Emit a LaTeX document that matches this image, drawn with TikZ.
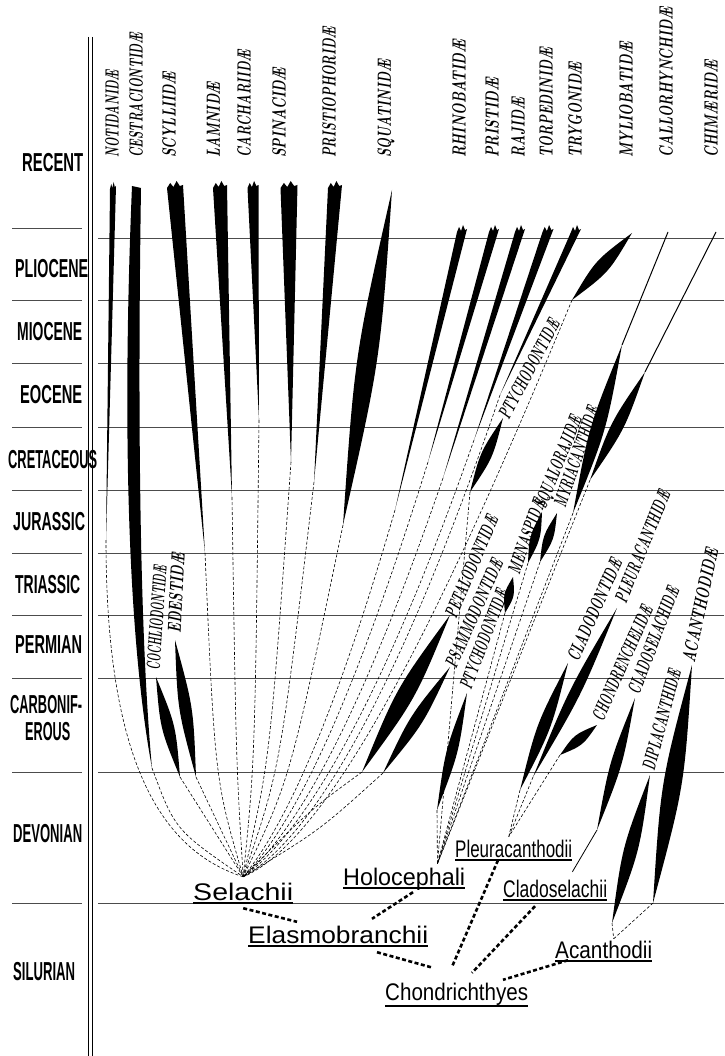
\documentclass[tikz,border=0pt]{standalone}
\usepackage{fontspec}
\usepackage{tikz}
\usetikzlibrary{calc,positioning}
\newfontfamily\grotesk{Liberation Sans}
\newcommand{\fitw}[2]{\resizebox{#1pt}{\height}{#2}}
% lens shaped range of a family
\newcommand{\lens}[3]{\fill[spindle] #1 .. controls ($#1!0.5!#2!#3!90:#2$) .. #2 .. controls ($#1!0.5!#2!#3!-90:#2$) .. #1;}
% range reaching the present, ragged top
\newcommand{\taper}[3]{\fill[spindle] ($#1+(-#2/2,0)$) -- ++(#2*0.2,-5) -- ++(#2*0.2,4) -- ++(#2*0.2,-6) -- ++(#2*0.2,5) -- ($#1+(#2/2,-3)$) -- #3 -- cycle;}

\begin{document}
\begin{tikzpicture}[x=1pt, y=-1pt,
    spindle/.style={fill=black},
    era/.style={draw=black!70, line width=0.5pt},
    eralabel/.style={anchor=base west, inner sep=0pt, font=\grotesk\bfseries\fontsize{26}{26}\selectfont},
    fam/.style={anchor=west, inner sep=0pt, font=\fontsize{19}{19}\selectfont\bfseries\itshape},
    group/.style={anchor=base west, inner sep=0pt, text height=17pt, text depth=0pt, font=\grotesk\fontsize{24}{24}\selectfont},
    uline/.style={line width=1.8pt},
    lineage/.style={dash pattern=on 3pt off 2pt, line width=0.6pt},
    link/.style={line width=2.6pt, dash pattern=on 4pt off 2.5pt}]

    \fill[white] (0,0) rectangle (724,1056);
    \useasboundingbox (0,0) rectangle (724,1056);

    % time scale
    \draw[line width=0.8pt] (88,37) -- (88,1056);
    \draw[line width=0.6pt] (92,37) -- (92,1056);
    \draw[era] (12,228) -- (82,228);
    \draw[era] (98,238) -- (724,238);
    \foreach \y in {300,363,427,490,553,615,678,772,903} {
        \draw[era] (12,\y) -- (82,\y);
        \draw[era] (98,\y) -- (724,\y);
    }
    \node[eralabel] (recent) at (22,172) {\fitw{61}{RECENT}};
    \node[eralabel] (pliocene) at (15,278) {\fitw{73}{PLIOCENE}};
    \node[eralabel] (miocene) at (17,340) {\fitw{65}{MIOCENE}};
    \node[eralabel] (eocene) at (20,403) {\fitw{62}{EOCENE}};
    \node[eralabel] (cretaceous) at (8,468) {\fitw{89}{CRETACEOUS}};
    \node[eralabel] (jurassic) at (13,530) {\fitw{72}{JURASSIC}};
    \node[eralabel] (triassic) at (15,593) {\fitw{65}{TRIASSIC}};
    \node[eralabel] (permian) at (15,653) {\fitw{67}{PERMIAN}};
    \node[eralabel] (carbon) at (10,713) {\fitw{72}{CARBONIF-}};
    \node[eralabel] (erous) at (25,740) {\fitw{45}{EROUS}};
    \node[eralabel] (devonian) at (13,842) {\fitw{69}{DEVONIAN}};
    \node[eralabel] (silurian) at (13,980) {\fitw{62}{SILURIAN}};

    % families
    \node[fam, rotate=90] (notidanidae) at (112,158) {\fitw{88}{NOTIDANID\AE}};
    \node[fam, rotate=90] (cestraciontidae) at (136,158) {\fitw{125}{CESTRACIONTID\AE}};
    \node[fam, rotate=90] (scylliidae) at (169,158) {\fitw{86}{SCYLLIID\AE}};
    \node[fam, rotate=90] (lamnidae) at (213,158) {\fitw{76}{LAMNID\AE}};
    \node[fam, rotate=90] (carchariidae) at (244,158) {\fitw{108}{CARCHARIID\AE}};
    \node[fam, rotate=90] (spinacidae) at (279,158) {\fitw{90}{SPINACID\AE}};
    \node[fam, rotate=90] (pristiophoridae) at (329,158) {\fitw{131}{PRISTIOPHORID\AE}};
    \node[fam, rotate=90] (squatinidae) at (386,158) {\fitw{98}{SQUATINID\AE}};
    \node[fam, rotate=90] (rhinobatidae) at (459,158) {\fitw{118}{RHINOBATID\AE}};
    \node[fam, rotate=90] (pristidae) at (492,158) {\fitw{80}{PRISTID\AE}};
    \node[fam, rotate=90] (rajidae) at (518,158) {\fitw{60}{RAJID\AE}};
    \node[fam, rotate=90] (torpedinidae) at (546,158) {\fitw{110}{TORPEDINID\AE}};
    \node[fam, rotate=90] (trygonidae) at (575,158) {\fitw{96}{TRYGONID\AE}};
    \node[fam, rotate=90] (myliobatidae) at (626,158) {\fitw{116}{MYLIOBATID\AE}};
    \node[fam, rotate=90] (callorhynchidae) at (666,158) {\fitw{151}{CALLORHYNCHID\AE}};
    \node[fam, rotate=90] (chimaeridae) at (711,158) {\fitw{98}{CHIM\AE RID\AE}};

    \node[fam, rotate=86] (cochliodontidae) at (153,670) {\fitw{105}{COCHLIODONTID\AE}};
    \node[fam, rotate=87] (edestidae) at (174,633) {\fitw{80}{EDESTID\AE}};
    \node[fam, rotate=62] (ptychodontidae) at (503,418) {\fitw{110}{PTYCHODONTID\AE}};
    \node[fam, rotate=67] (petalodontidae) at (450,617) {\fitw{109}{PETALODONTID\AE}};
    \node[fam, rotate=66] (psammodontidae) at (450,667) {\fitw{117}{PSAMMODONTID\AE}};
    \node[fam, rotate=69] (ptyctodontidae) at (465,688) {\fitw{105}{PTYCHODONTID\AE}};
    \node[fam, rotate=70] (menaspidae) at (513,573) {\fitw{78}{MENASPID\AE}};
    \node[fam, rotate=68] (squalorajidae) at (541,508) {\fitw{98}{SQUALORAJID\AE}};
    \node[fam, rotate=71] (myriacanthidae) at (559,507) {\fitw{106}{MYRIACANTHID\AE}};
    \node[fam, rotate=66] (cladodontidae) at (572,660) {\fitw{110}{CLADODONTID\AE}};
    \node[fam, rotate=68] (pleuracanthidae) at (620,602) {\fitw{119}{PLEURACANTHID\AE}};
    \node[fam, rotate=66] (chondrenchelidae) at (597,720) {\fitw{124}{CHONDRENCHELID\AE}};
    \node[fam, rotate=69] (cladoselachidae) at (633,693) {\fitw{113}{CLADOSELACHID\AE}};
    \node[fam, rotate=75] (diplacanthidae) at (648,770) {\fitw{104}{DIPLACANTHID\AE}};
    \node[fam, rotate=78] (acanthodidae) at (688,662) {\fitw{116}{ACANTHODID\AE}};

    % groups
    \node[group] (selachii) at (193,900) {\fitw{100}{Selachii}};
    \node[group] (holocephali) at (343,885) {\fitw{122}{Holocephali}};
    \node[group] (elasmo) at (248,943) {\fitw{180}{Elasmobranchii}};
    \node[group] (pleura) at (455,857) {\fitw{117}{Pleuracanthodii}};
    \node[group] (clado) at (503,897) {\fitw{104}{Cladoselachii}};
    \node[group] (acanth) at (555,958) {\fitw{97}{Acanthodii}};
    \node[group] (chondr) at (385,1000) {\fitw{143}{Chondrichthyes}};
    \foreach \n in {selachii,holocephali,elasmo,pleura,clado,acanth}
        \draw[uline] ([yshift=-3pt]\n.base west) -- ([yshift=-3pt]\n.base east);
    \draw[uline] ([yshift=-6pt]chondr.base west) -- ([yshift=-6pt]chondr.base east);

    \coordinate (selroot) at ([yshift=6pt]selachii.north);
    \coordinate (holroot) at ([xshift=-28pt,yshift=4pt]holocephali.north east);
    \coordinate (pleroot) at ([xshift=-5pt,yshift=3pt]pleura.north);
    \coordinate (acaroot) at ([xshift=10pt,yshift=2pt]acanth.north);

    % ranges, Selachii
    \taper{(113,189)}{6}{(106,540)}
    \fill[spindle] (132,186) -- (141,188) .. controls (137,450) and (141,650) .. (152,768) .. controls (130,650) and (121,450) .. (132,186);
    \taper{(175,188)}{16}{(205,553)}
    \taper{(220,188)}{14}{(232,497)}
    \taper{(253,188)}{11}{(259,420)}
    \taper{(289,188)}{17}{(291,462)}
    \taper{(335,188)}{14}{(314,482)}
    \lens{(392,190)}{(343,525)}{13pt}
    \lens{(156,677)}{(180,777)}{8pt}
    \lens{(175,640)}{(196,777)}{8pt}
    \taper{(462,232)}{10}{(395,510)}
    \taper{(494,232)}{10}{(428,462)}
    \taper{(520,232)}{10}{(443,478)}
    \taper{(548,232)}{11}{(474,440)}
    \taper{(576,232)}{10}{(500,395)}
    \lens{(632,233)}{(572,300)}{9pt}
    \lens{(450,615)}{(362,772)}{11pt}
    \lens{(450,667)}{(383,773)}{8pt}

    % ranges, Holocephali
    \draw[line width=1pt] (668,232) -- (622,345);
    \lens{(622,345)}{(573,513)}{9pt}
    \draw[line width=1pt] (716,232) -- (645,372);
    \lens{(645,372)}{(590,480)}{8pt}
    \lens{(503,418)}{(470,492)}{7pt}
    \lens{(467,693)}{(437,810)}{7pt}
    \lens{(513,577)}{(505,613)}{6pt}
    \lens{(542,512)}{(528,563)}{6pt}
    \lens{(557,513)}{(540,562)}{6pt}

    % ranges, Pleuracanthodii, Cladoselachii, Acanthodii
    \lens{(568,663)}{(520,790)}{8pt}
    \lens{(617,608)}{(533,777)}{7pt}
    \lens{(597,725)}{(560,755)}{7pt}
    \lens{(635,698)}{(597,830)}{7pt}
    \draw[line width=0.8pt] (597,830) -- ([xshift=-35pt,yshift=8pt]clado.north east);
    \lens{(650,775)}{(612,923)}{9pt}
    \lens{(692,665)}{(653,903)}{12pt}

    % descent, Selachii
    \draw[lineage] (106,540) .. controls (106,760) and (160,850) .. (selroot);
    \draw[lineage] (152,768) .. controls (175,830) .. (selroot);
    \draw[lineage] (180,777) -- (selroot);
    \draw[lineage] (196,777) -- (selroot);
    \draw[lineage] (205,553) .. controls (215,780) .. (selroot);
    \draw[lineage] (232,497) .. controls (236,760) .. (selroot);
    \draw[lineage] (259,420) .. controls (255,760) .. (selroot);
    \draw[lineage] (291,462) .. controls (270,760) .. (selroot);
    \draw[lineage] (314,482) .. controls (280,770) .. (selroot);
    \draw[lineage] (343,525) .. controls (290,780) .. (selroot);
    \draw[lineage] (395,510) .. controls (340,700) and (290,820) .. (selroot);
    \draw[lineage] (428,462) .. controls (360,680) and (300,820) .. (selroot);
    \draw[lineage] (443,478) .. controls (370,690) and (305,825) .. (selroot);
    \draw[lineage] (474,440) .. controls (390,680) and (310,830) .. (selroot);
    \draw[lineage] (500,395) .. controls (410,660) and (320,835) .. (selroot);
    \draw[lineage] (572,300) .. controls (440,620) and (330,840) .. (selroot);
    \draw[lineage] (362,772) .. controls (310,810) .. (selroot);
    \draw[lineage] (383,773) .. controls (320,830) .. (selroot);

    % descent, Holocephali
    \draw[lineage] (437,810) -- (holroot);
    \draw[lineage] (470,492) -- (holroot);
    \draw[lineage] (505,613) -- (holroot);
    \draw[lineage] (528,563) -- (holroot);
    \draw[lineage] (540,562) -- (holroot);
    \draw[lineage] (573,513) -- (holroot);
    \draw[lineage] (590,480) -- (holroot);

    % descent, Pleuracanthodii and Acanthodii
    \draw[lineage] (520,790) -- (pleroot);
    \draw[lineage] (533,777) -- (pleroot);
    \draw[lineage] (560,755) -- (pleroot);
    \draw[lineage] (612,923) -- (acaroot);
    \draw[lineage] (653,903) -- (acaroot);

    % groups joined
    \draw[link] ([yshift=-8pt]selachii.south) -- ([xshift=49pt,yshift=4pt]elasmo.north west);
    \draw[link] ([xshift=70pt,yshift=-7pt]holocephali.south west) -- ([xshift=124pt,yshift=7pt]elasmo.north west);
    \draw[link] ([xshift=129pt,yshift=-9pt]elasmo.south west) -- ([xshift=48pt,yshift=15pt]chondr.north west);
    \draw[link] ([xshift=43pt,yshift=-3pt]pleura.south west) -- ([xshift=67pt,yshift=16pt]chondr.north west);
    \draw[link] ([xshift=32pt,yshift=-9pt]clado.south west) -- ([xshift=87pt,yshift=10pt]chondr.north west);
    \draw[link] ([xshift=13pt,yshift=-2pt]acanth.south west) -- ([xshift=118pt,yshift=3pt]chondr.north west);
\end{tikzpicture}
\end{document}
